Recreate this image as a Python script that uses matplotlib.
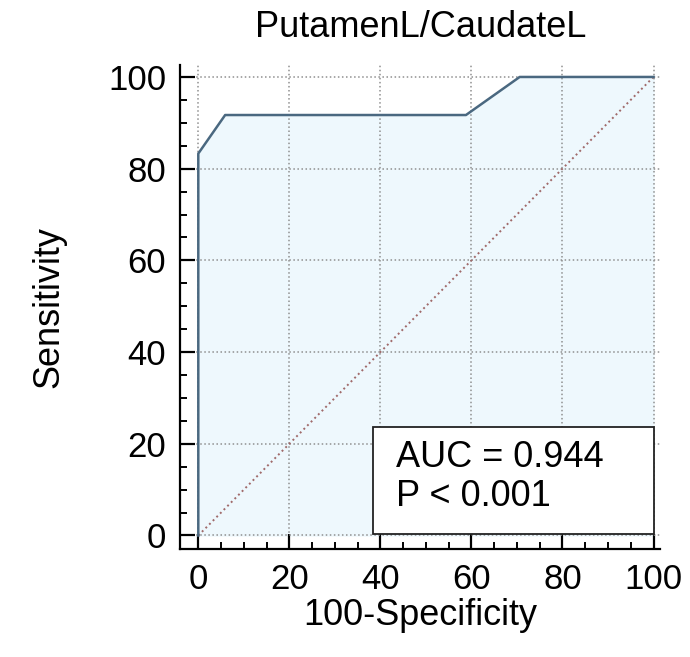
import matplotlib
matplotlib.use('Agg')
import matplotlib.pyplot as plt
from matplotlib.patches import Rectangle
from matplotlib.ticker import MultipleLocator

plt.rcParams['font.family'] = ['Liberation Sans', 'DejaVu Sans']

# ROC points (100-Specificity, Sensitivity)
fpr = [0, 0, 5.9, 58.8, 70.6, 100]
tpr = [0, 83.3, 91.7, 91.7, 100, 100]
ref_line = [0, 100]
auc_text = 'AUC = 0.944'
p_text = 'P < 0.001'
ticks = [0, 20, 40, 60, 80, 100]

fig = plt.figure(figsize=(6.9, 6.57), dpi=100)
ax = fig.add_axes([0.261, 0.164, 0.696, 0.737])

# light fill under the curve, then the curve itself
ax.fill_between(fpr, tpr, 0, color='#eef8fd', zorder=1)
ax.plot(fpr, tpr, color='#4a6880', linewidth=1.8, zorder=3)
ax.plot(ref_line, ref_line, color='#a06a6a', linestyle=':', linewidth=1.4, zorder=2)

ax.set_xlim(-4, 101.5)
ax.set_ylim(-3, 102.6)
ax.set_xticks(ticks)
ax.set_yticks(ticks)
ax.xaxis.set_minor_locator(MultipleLocator(5))
ax.yaxis.set_minor_locator(MultipleLocator(5))
ax.set_axisbelow('line')
ax.grid(True, which='major', color='#909090', linestyle=':', linewidth=1.1)

ax.spines['top'].set_visible(False)
ax.spines['right'].set_visible(False)
for s in ('left', 'bottom'):
    ax.spines[s].set_linewidth(1.6)
ax.tick_params(which='major', direction='in', length=11, width=1.6, labelsize=25, pad=10)
ax.tick_params(which='minor', direction='in', length=5, width=1.4)

ax.set_title('PutamenL/CaudateL', fontsize=26, pad=20)
ax.set_xlabel('100-Specificity', fontsize=26, labelpad=1)
ax.set_ylabel('Sensitivity', fontsize=26, labelpad=30)

# AUC annotation box
ax.add_patch(Rectangle((38.3, 0.4), 61.9, 23.2, facecolor='white', edgecolor='#222222',
                       linewidth=1.3, zorder=4))
ax.text(43.5, 17.1, auc_text, fontsize=26, va='center', ha='left', zorder=5)
ax.text(43.5, 8.6, p_text, fontsize=26, va='center', ha='left', zorder=5)

fig.savefig('out.png', dpi=100)
